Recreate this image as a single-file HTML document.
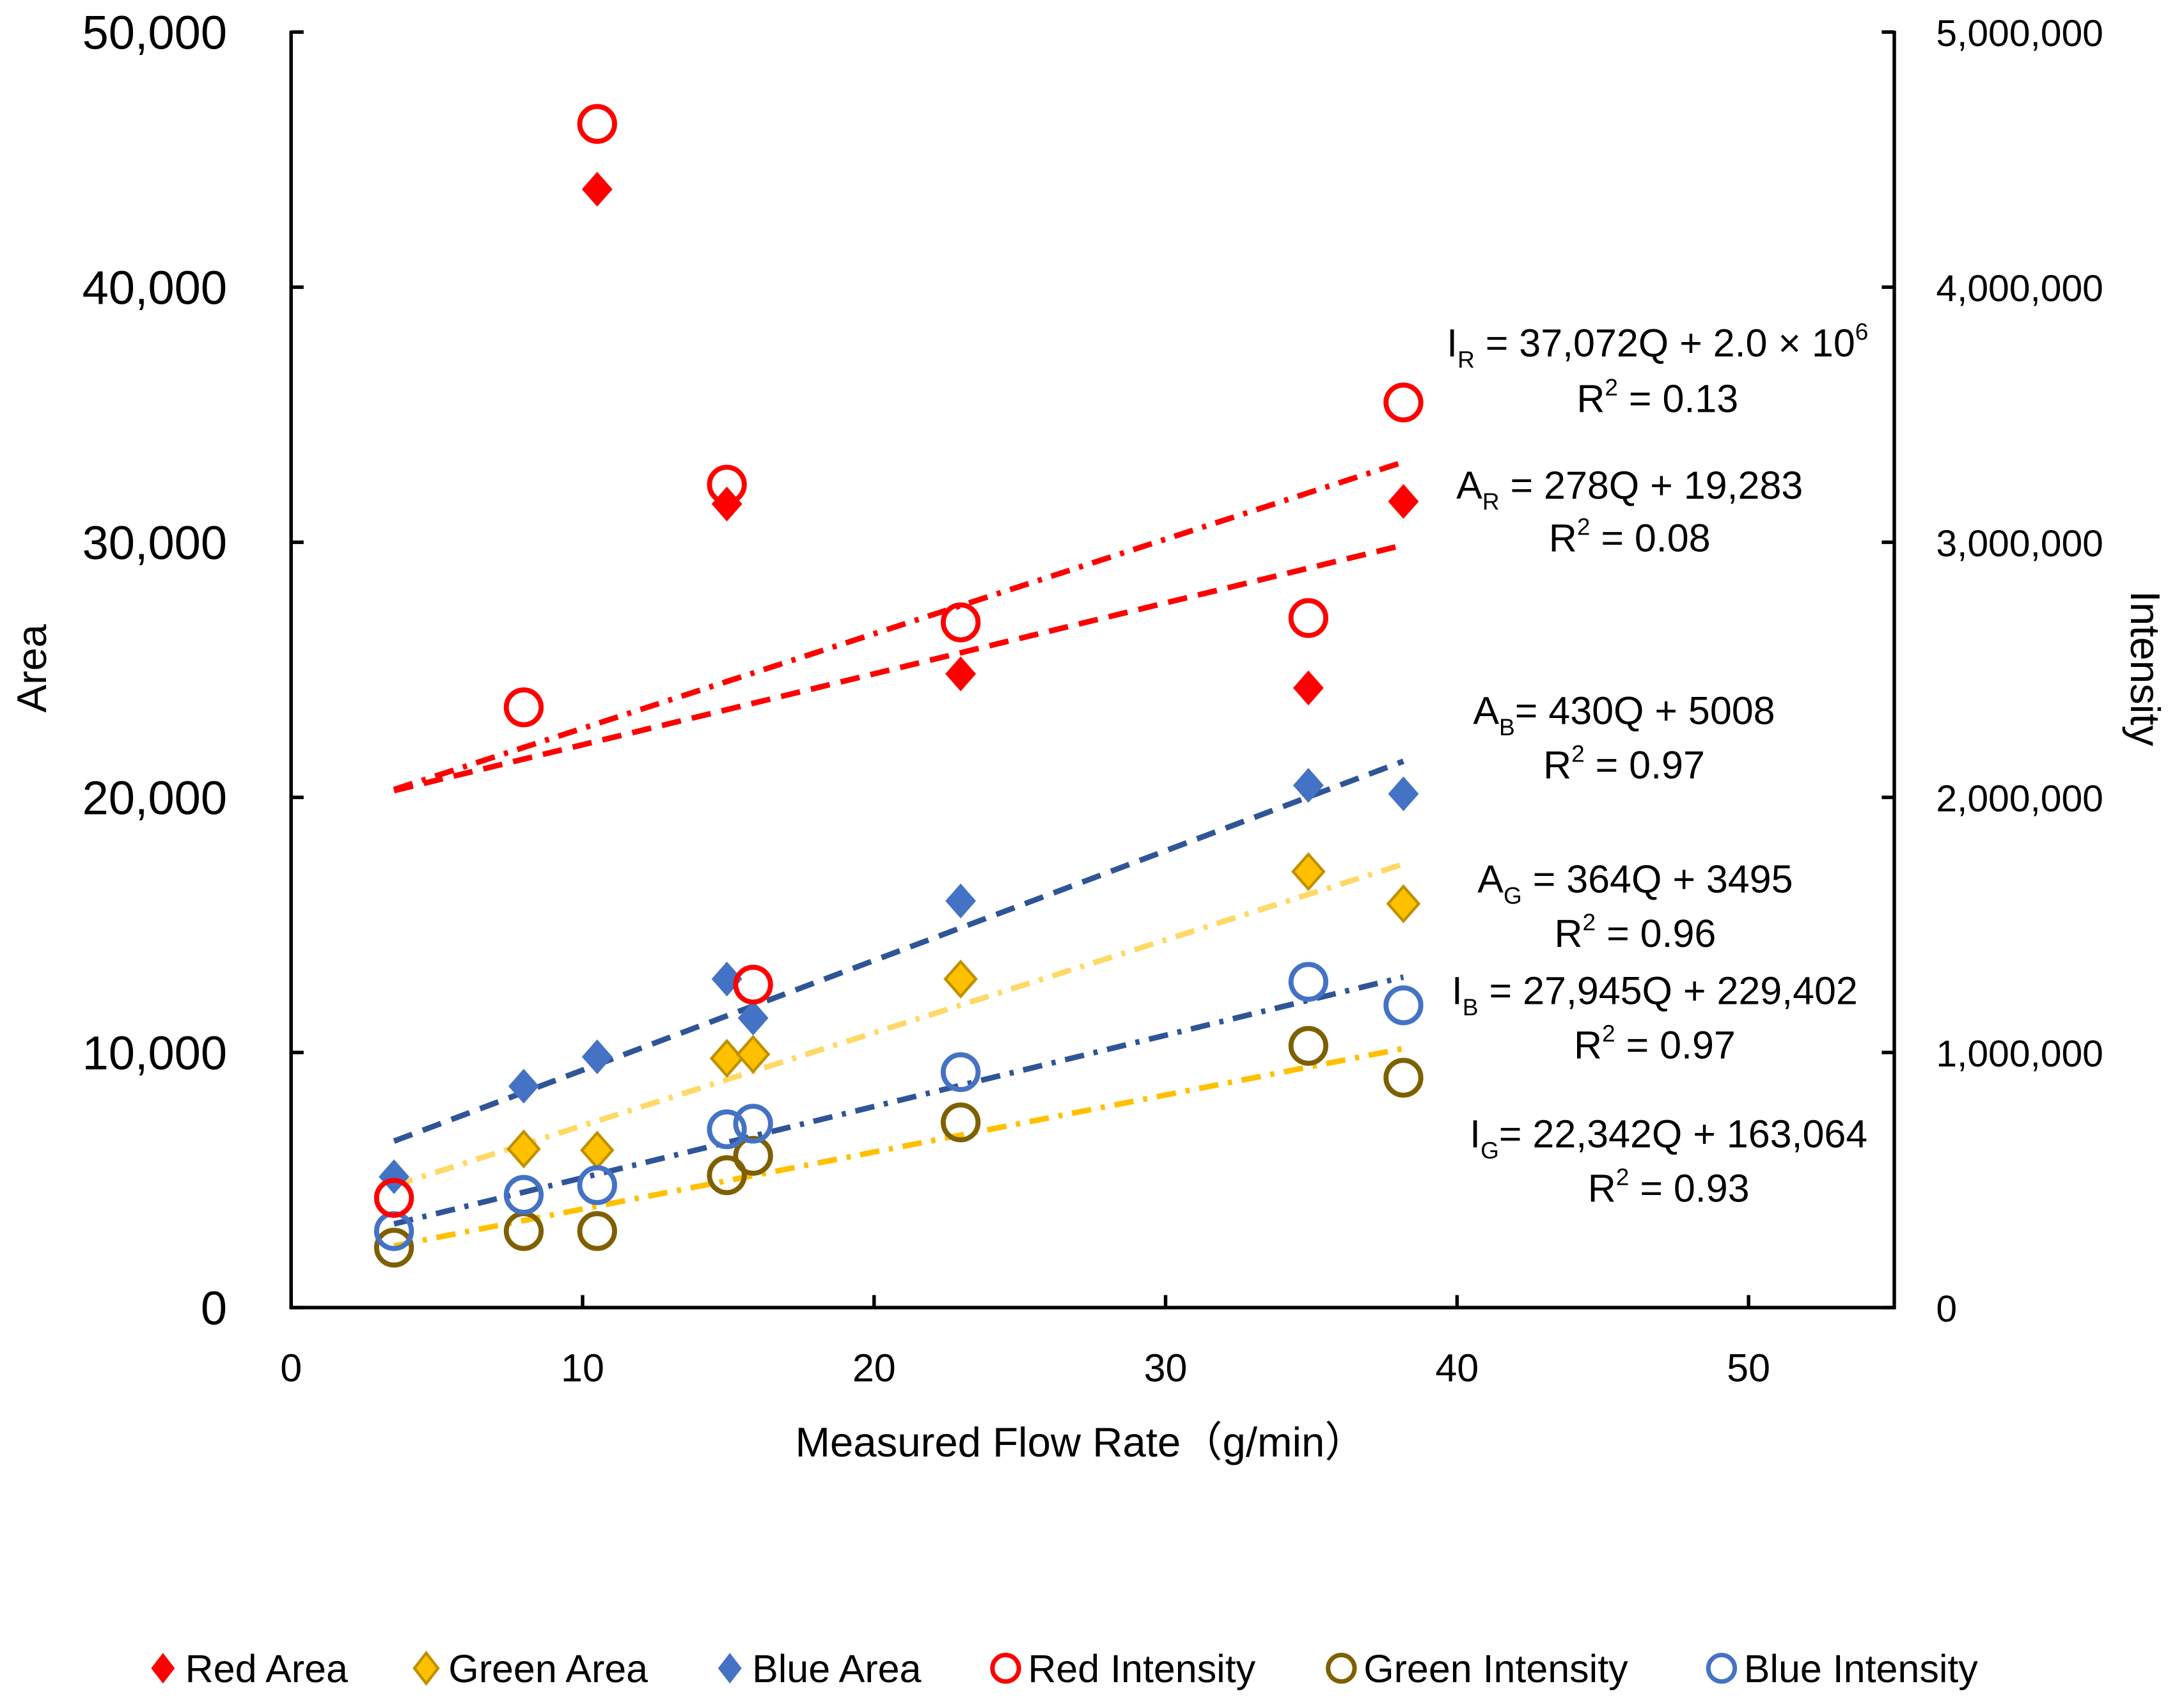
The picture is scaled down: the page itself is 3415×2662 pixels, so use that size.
<!DOCTYPE html>
<html><head><meta charset="utf-8"><style>
html,body{margin:0;padding:0;background:#fff;}
svg{display:block;font-family:"Liberation Sans","Noto Sans CJK SC",sans-serif;}
</style></head><body>
<svg id="chart" width="3415" height="2662" viewBox="0 0 1568 1222.2" xmlns="http://www.w3.org/2000/svg">
<rect x="0" y="0" width="1568" height="1222.2" fill="#fff"/>
<g id="ticks"></g>
<g id="lines"></g>
<g id="marks"></g>
<g id="axes" stroke="#000" stroke-width="2.5" fill="none">
<line x1="209" y1="22" x2="209" y2="940"/>
<line x1="1360" y1="22" x2="1360" y2="940"/>
<line x1="208" y1="939" x2="1361" y2="939"/>
</g>
<g font-size="28" text-anchor="middle" fill="#000">
<text x="1190" y="256">I<tspan font-size="17" dy="8">R</tspan><tspan dy="-8"> = 37,072Q + 2.0 × 10</tspan><tspan font-size="17" dy="-12">6</tspan></text>
<text x="1190" y="296">R<tspan font-size="17" dy="-12">2</tspan><tspan dy="12"> = 0.13</tspan></text>
<text x="1170" y="358">A<tspan font-size="17" dy="8">R</tspan><tspan dy="-8"> = 278Q + 19,283</tspan></text>
<text x="1170" y="396">R<tspan font-size="17" dy="-12">2</tspan><tspan dy="12"> = 0.08</tspan></text>
<text x="1166" y="520">A<tspan font-size="17" dy="8">B</tspan><tspan dy="-8">= 430Q + 5008</tspan></text>
<text x="1166" y="559">R<tspan font-size="17" dy="-12">2</tspan><tspan dy="12"> = 0.97</tspan></text>
<text x="1174" y="641">A<tspan font-size="17" dy="8">G</tspan><tspan dy="-8"> = 364Q + 3495</tspan></text>
<text x="1174" y="680">R<tspan font-size="17" dy="-12">2</tspan><tspan dy="12"> = 0.96</tspan></text>
<text x="1188" y="721">I<tspan font-size="17" dy="8">B</tspan><tspan dy="-8"> = 27,945Q + 229,402</tspan></text>
<text x="1188" y="760">R<tspan font-size="17" dy="-12">2</tspan><tspan dy="12"> = 0.97</tspan></text>
<text x="1198" y="824">I<tspan font-size="17" dy="8">G</tspan><tspan dy="-8">= 22,342Q + 163,064</tspan></text>
<text x="1198" y="863">R<tspan font-size="17" dy="-12">2</tspan><tspan dy="12"> = 0.93</tspan></text>
</g>
<text font-size="30" text-anchor="middle" transform="translate(33,480) rotate(-90)">Area</text>
<text font-size="30" text-anchor="middle" transform="translate(1530,480) rotate(90)">Intensity</text>
<text font-size="30" text-anchor="middle" x="776" y="1046">Measured Flow Rate（g/min）</text>
<g id="legend" font-size="28"></g>
</svg>
<script>
const xTicks=[0,10,20,30,40,50];
const areaTicks=[0,10000,20000,30000,40000,50000];
const intTicks=[0,1000000,2000000,3000000,4000000,5000000];
const areaTickLabels=["0","10,000","20,000","30,000","40,000","50,000"];
const intTickLabels=["0","1,000,000","2,000,000","3,000,000","4,000,000","5,000,000"];
const qRedArea=[10.5,14.95,22.97,34.9,38.16];
const redArea=[43840,31500,24840,24290,31600];
const qGreenArea=[7.98,10.5,14.95,15.85,22.97,34.9,38.16];
const greenArea=[6220,6170,9770,9930,12880,17090,15830];
const qAll=[3.53,7.98,10.5,14.95,15.85,22.97,34.9,38.16];
const blueArea=[5130,8680,9830,12880,11350,15940,20470,20140];
const redInt=[430000,2353000,4640000,3226000,1266000,2686000,2703000,3548000];
const greenInt=[235000,300000,300000,519000,595000,726000,1026000,901000];
const blueInt=[300000,442000,480000,699000,721000,923000,1277000,1185000];
const trendSlopes=[278,37072,430,364,27945,22342];
const trendIntercepts=[19283,1900000,5008,3495,229402,163064];
const trendQ=[3.53,38.16];

const NS="http://www.w3.org/2000/svg";
const X0=209,X1=1360,Y0=939,Y1=23;
const xs=v=>X0+(X1-X0)*v/55;
const ya=v=>Y0-(Y0-Y1)*v/50000;
const yi=v=>Y0-(Y0-Y1)*v/5000000;
function mk(tag,attrs,parent){const e=document.createElementNS(NS,tag);for(const k in attrs)e.setAttribute(k,attrs[k]);parent.appendChild(e);return e;}
const tk=document.getElementById('ticks');
xTicks.forEach((t,i)=>{
 const l=mk('line',{x1:xs(t),x2:xs(t),y1:Y0,y2:Y0-9,stroke:'#000','stroke-width':2.5},tk);
 
 
 const tx=mk('text',{x:xs(t),y:992,'font-size':28,'text-anchor':'middle'},tk);tx.textContent=t;
 
 
});
areaTicks.forEach((t,i)=>{
 const l=mk('line',{x1:X0,x2:X0+9,y1:ya(t),y2:ya(t),stroke:'#000','stroke-width':2.5},tk);
 
 
 const tx=mk('text',{x:163,y:ya(t)+12,'font-size':34,'text-anchor':'end'},tk);tx.textContent=areaTickLabels[i];
 
 
});
intTicks.forEach((t,i)=>{
 const l=mk('line',{x1:X1,x2:X1-9,y1:yi(t),y2:yi(t),stroke:'#000','stroke-width':2.5},tk);
 
 
 const tx=mk('text',{x:1390,y:yi(t)+10,'font-size':27,'text-anchor':'start'},tk);tx.textContent=intTickLabels[i];
 
 
});
const lg=document.getElementById('lines');
const trendStyle=[
 {c:'#FF0000',d:'14 8',ax:ya,n:'trend-red-area'},
 {c:'#FF0000',d:'14 7 3 7',ax:yi,n:'trend-red-intensity'},
 {c:'#2F5597',d:'14 8',ax:ya,n:'trend-blue-area'},
 {c:'#FFD966',d:'14 7 3 7',ax:ya,n:'trend-green-area'},
 {c:'#2F5597',d:'14 7 3 7',ax:yi,n:'trend-blue-intensity'},
 {c:'#FFC000',d:'14 7 3 7',ax:yi,n:'trend-green-intensity'}];
trendStyle.forEach((s,i)=>{
 const a=trendQ[0],b=trendQ[1];
 const l=mk('line',{x1:xs(a),y1:s.ax(trendSlopes[i]*a+trendIntercepts[i]),x2:xs(b),y2:s.ax(trendSlopes[i]*b+trendIntercepts[i]),stroke:s.c,'stroke-width':4,'stroke-dasharray':s.d},lg);
 
 
});
const mg=document.getElementById('marks');
function diamond(cx,cy,fill,stroke,g){return mk('path',{d:`M${cx},${cy-12.5} L${cx+11},${cy} L${cx},${cy+12.5} L${cx-11},${cy} Z`,fill:fill,stroke:stroke,'stroke-width':stroke==='none'?0:2},g);}
function circ(cx,cy,stroke,g){return mk('circle',{cx:cx,cy:cy,r:12.5,fill:'none',stroke:stroke,'stroke-width':3.6},g);}
blueArea.forEach((v,i)=>{const e=diamond(xs(qAll[i]),ya(v),'#4472C4','none',mg);
 
 });
greenArea.forEach((v,i)=>{const e=diamond(xs(qGreenArea[i]),ya(v),'#FFC000','#BF9000',mg);
 
 });
redArea.forEach((v,i)=>{const e=diamond(xs(qRedArea[i]),ya(v),'#FF0000','none',mg);
 
 });
greenInt.forEach((v,i)=>{const e=circ(xs(qAll[i]),yi(v),'#7F6000',mg);
 
 });
blueInt.forEach((v,i)=>{const e=circ(xs(qAll[i]),yi(v),'#4472C4',mg);
 
 });
redInt.forEach((v,i)=>{const e=circ(xs(qAll[i]),yi(v),'#FF0000',mg);
 
 });
const lgd=document.getElementById('legend');
const legendItems=[
 {t:'Red Area',x:117,k:'d',f:'#FF0000',s:'none'},
 {t:'Green Area',x:306,k:'d',f:'#FFC000',s:'#BF9000'},
 {t:'Blue Area',x:524,k:'d',f:'#4472C4',s:'none'},
 {t:'Red Intensity',x:722,k:'c',s:'#FF0000'},
 {t:'Green Intensity',x:963,k:'c',s:'#7F6000'},
 {t:'Blue Intensity',x:1236,k:'c',s:'#4472C4'}];
legendItems.forEach(it=>{
 const g=mk('g',{},lgd);
 
 
 if(it.k==='d'){mk('path',{d:`M${it.x},${1187} L${it.x+8.5},${1198} L${it.x},${1209} L${it.x-8.5},${1198} Z`,fill:it.f,stroke:it.s,'stroke-width':it.s==='none'?0:2},g);}
 else {mk('circle',{cx:it.x,cy:1198,r:9.5,fill:'none',stroke:it.s,'stroke-width':3.2},g);}
 const t=mk('text',{x:it.x+16,y:1208},g);t.textContent=it.t;
});
</script>
</body></html>
